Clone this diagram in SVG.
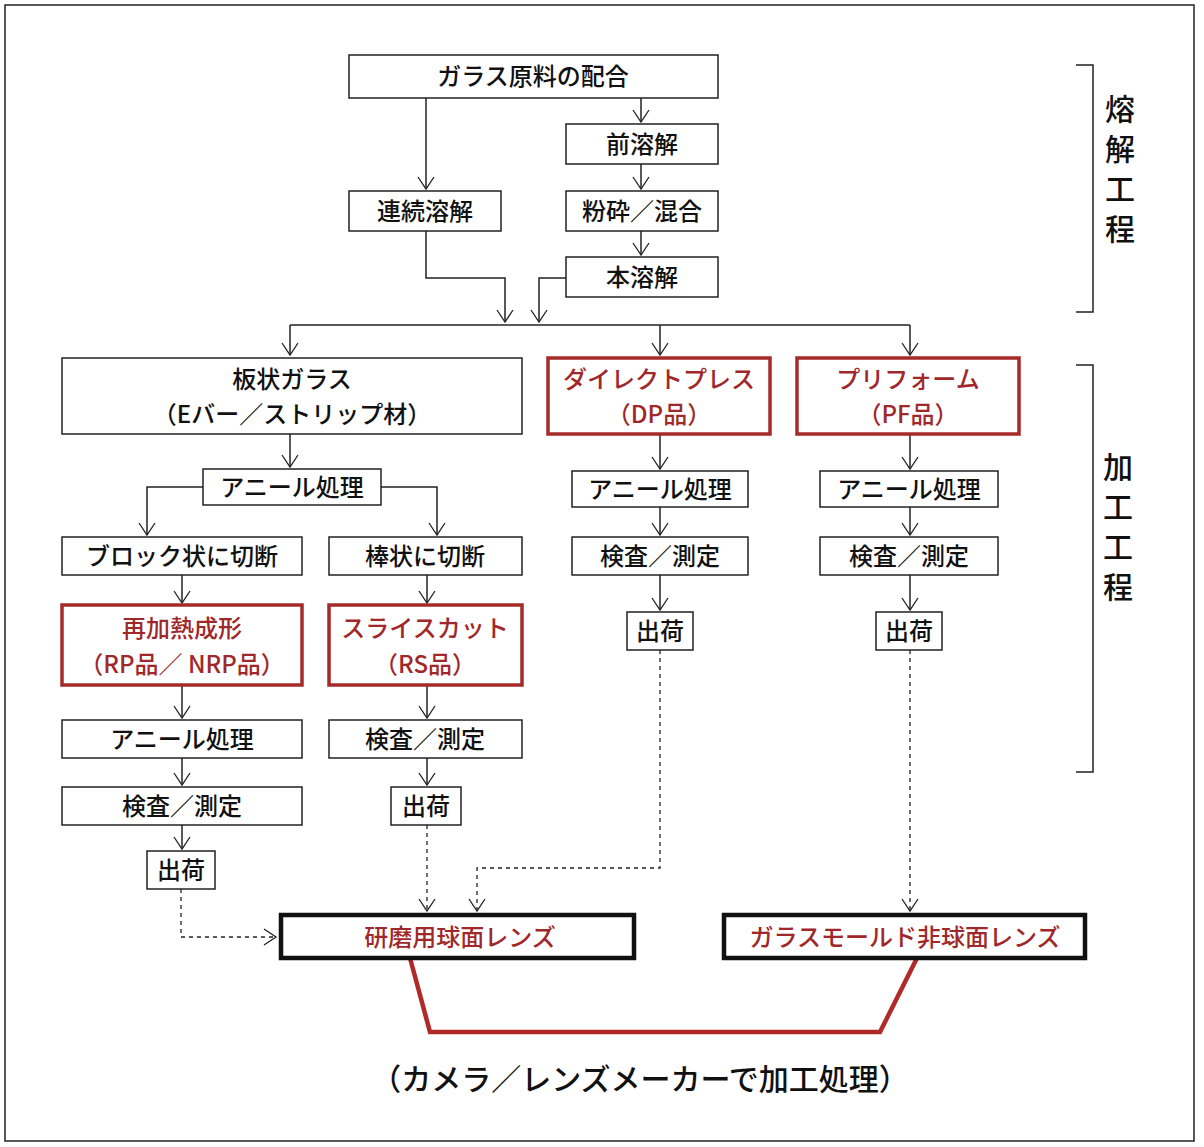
<svg xmlns="http://www.w3.org/2000/svg" width="1204" height="1147" viewBox="0 0 1204 1147">
<defs>
<marker id="a" viewBox="-14 -10 16 20" refX="0" refY="0" markerWidth="16" markerHeight="20" markerUnits="userSpaceOnUse" orient="auto"><path d="M-12,-8 L0,0 L-12,8" fill="none" stroke="#222" stroke-width="1.3"/></marker>
</defs>
<style>
.b{fill:#fff;stroke:#222;stroke-width:1.5}
.r{fill:#fff;stroke:#a52a2a;stroke-width:3.5}
.k{fill:#fff;stroke:#111;stroke-width:4.5}
text{font-family:"Noto Sans CJK JP","Noto Sans",sans-serif;font-size:24px;font-weight:500;text-anchor:middle;fill:#111}
.rt{fill:#a0282a}
.c{fill:none;stroke:#222;stroke-width:1.5}
.d{fill:none;stroke:#222;stroke-width:1.3;stroke-dasharray:4 4}
.v{font-size:30px}
</style>
<rect x="0" y="0" width="1204" height="1147" fill="#fff"/>
<rect x="5" y="5" width="1189" height="1136" fill="none" stroke="#222" stroke-width="1.5"/>
<g id="connectors">
<path class="c" d="M426,98 V189" marker-end="url(#a)"/>
<path class="c" d="M641,98 V122" marker-end="url(#a)"/>
<path class="c" d="M641,164 V189" marker-end="url(#a)"/>
<path class="c" d="M641,231 V255" marker-end="url(#a)"/>
<path class="c" d="M426,231 V278 H505 V322" marker-end="url(#a)"/>
<path class="c" d="M566,278 H539 V322" marker-end="url(#a)"/>
<path class="c" d="M290,325 H910"/>
<path class="c" d="M290,325 V355" marker-end="url(#a)"/>
<path class="c" d="M660,325 V355" marker-end="url(#a)"/>
<path class="c" d="M910,325 V355" marker-end="url(#a)"/>
<path class="c" d="M290,434 V467" marker-end="url(#a)"/>
<path class="c" d="M203,487 H147 V535" marker-end="url(#a)"/>
<path class="c" d="M381,487 H437 V535" marker-end="url(#a)"/>
<path class="c" d="M182,575 V603" marker-end="url(#a)"/>
<path class="c" d="M427,575 V603" marker-end="url(#a)"/>
<path class="c" d="M182,685 V718" marker-end="url(#a)"/>
<path class="c" d="M427,685 V718" marker-end="url(#a)"/>
<path class="c" d="M182,758 V785" marker-end="url(#a)"/>
<path class="c" d="M427,758 V785" marker-end="url(#a)"/>
<path class="c" d="M182,825 V849" marker-end="url(#a)"/>
<path class="c" d="M660,434 V469" marker-end="url(#a)"/>
<path class="c" d="M660,507 V535" marker-end="url(#a)"/>
<path class="c" d="M660,575 V610" marker-end="url(#a)"/>
<path class="c" d="M910,434 V469" marker-end="url(#a)"/>
<path class="c" d="M910,507 V535" marker-end="url(#a)"/>
<path class="c" d="M910,575 V610" marker-end="url(#a)"/>
<path class="d" d="M181,889 V937 H276" marker-end="url(#a)"/>
<path class="d" d="M427,825 V911" marker-end="url(#a)"/>
<path class="d" d="M660,650 V868 H477 V911" marker-end="url(#a)"/>
<path class="d" d="M910,650 V911" marker-end="url(#a)"/>
<path d="M410,958 L430,1032 H880 L917,958" fill="none" stroke="#b02a2a" stroke-width="4.5"/>
<path class="c" d="M1076,65 H1093 V312 H1076"/>
<path class="c" d="M1076,365 H1093 V772 H1076"/>
</g>
<g id="n1"><rect class="b" x="349" y="55" width="369" height="43"/><text x="533" y="85">ガラス原料の配合</text></g>
<g id="n2"><rect class="b" x="566" y="124" width="152" height="40"/><text x="642" y="153">前溶解</text></g>
<g id="n3"><rect class="b" x="349" y="191" width="152" height="40"/><text x="425" y="220">連続溶解</text></g>
<g id="n4"><rect class="b" x="566" y="191" width="152" height="40"/><text x="642" y="220">粉砕／混合</text></g>
<g id="n5"><rect class="b" x="566" y="257" width="152" height="40"/><text x="642" y="286">本溶解</text></g>
<g id="n6"><rect class="b" x="62" y="358" width="460" height="76"/><text x="292" y="388">板状ガラス</text><text x="292" y="423">（Eバー／ストリップ材）</text></g>
<g id="n7"><rect class="r" x="548" y="358" width="222" height="76"/><text class="rt" x="659" y="388">ダイレクトプレス</text><text class="rt" x="659" y="423">（DP品）</text></g>
<g id="n8"><rect class="r" x="797" y="358" width="222" height="76"/><text class="rt" x="908" y="388">プリフォーム</text><text class="rt" x="908" y="423">（PF品）</text></g>
<g id="n9"><rect class="b" x="203" y="469" width="178" height="36"/><text x="292" y="496">アニール処理</text></g>
<g id="n10"><rect class="b" x="62" y="537" width="240" height="38"/><text x="182" y="565">ブロック状に切断</text></g>
<g id="n11"><rect class="b" x="329" y="537" width="193" height="38"/><text x="425" y="565">棒状に切断</text></g>
<g id="n12"><rect class="r" x="62" y="605" width="240" height="80"/><text class="rt" x="182" y="637">再加熱成形</text><text class="rt" x="182" y="673">（RP品／ NRP品）</text></g>
<g id="n13"><rect class="r" x="329" y="605" width="193" height="80"/><text class="rt" x="425" y="637">スライスカット</text><text class="rt" x="425" y="673">（RS品）</text></g>
<g id="n14"><rect class="b" x="62" y="720" width="240" height="38"/><text x="182" y="748">アニール処理</text></g>
<g id="n15"><rect class="b" x="329" y="720" width="193" height="38"/><text x="425" y="748">検査／測定</text></g>
<g id="n16"><rect class="b" x="62" y="787" width="240" height="38"/><text x="182" y="815">検査／測定</text></g>
<g id="n17"><rect class="b" x="391" y="787" width="70" height="38"/><text x="426" y="815">出荷</text></g>
<g id="n18"><rect class="b" x="147" y="851" width="68" height="38"/><text x="181" y="879">出荷</text></g>
<g id="n19"><rect class="b" x="572" y="471" width="176" height="36"/><text x="660" y="498">アニール処理</text></g>
<g id="n20"><rect class="b" x="572" y="537" width="176" height="38"/><text x="660" y="565">検査／測定</text></g>
<g id="n21"><rect class="b" x="627" y="612" width="66" height="38"/><text x="660" y="640">出荷</text></g>
<g id="n22"><rect class="b" x="820" y="471" width="178" height="36"/><text x="909" y="498">アニール処理</text></g>
<g id="n23"><rect class="b" x="820" y="537" width="178" height="38"/><text x="909" y="565">検査／測定</text></g>
<g id="n24"><rect class="b" x="876" y="612" width="66" height="38"/><text x="909" y="640">出荷</text></g>
<g id="n25"><rect class="k" x="281" y="915" width="353" height="43"/><text class="rt" x="460" y="946">研磨用球面レンズ</text></g>
<g id="n26"><rect class="k" x="724" y="915" width="361" height="43"/><text class="rt" x="905" y="946">ガラスモールド非球面レンズ</text></g>
<g id="labels">
<text x="640" y="1090" style="font-size:30px">（カメラ／レンズメーカーで加工処理）</text>
<text class="v" x="1120" y="120">熔</text><text class="v" x="1120" y="160">解</text><text class="v" x="1120" y="200">工</text><text class="v" x="1120" y="240">程</text>
<text class="v" x="1118" y="478">加</text><text class="v" x="1118" y="518">工</text><text class="v" x="1118" y="558">工</text><text class="v" x="1118" y="598">程</text>
</g>
</svg>
